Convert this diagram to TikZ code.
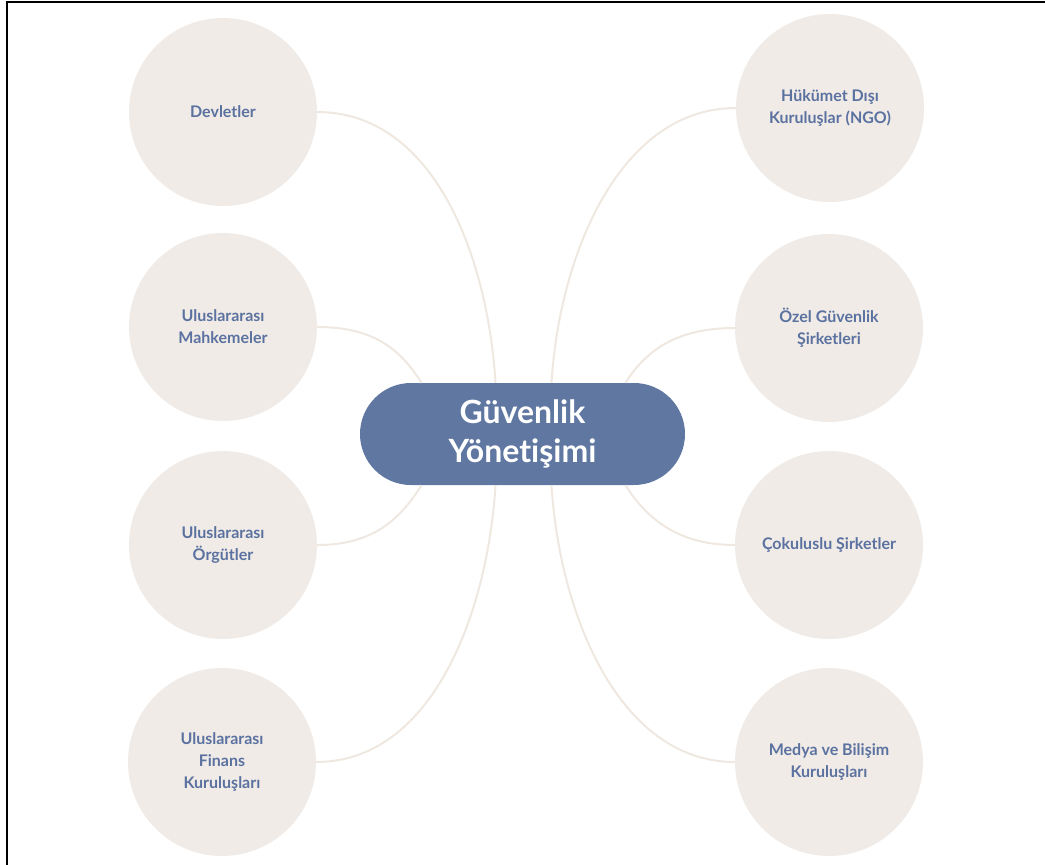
\documentclass[tikz,border=0pt]{standalone}
\usepackage{fontspec}
\setmainfont{Lato}[RawFeature={-liga;-clig;-dlig;-calt}]
\usepackage{tikz}
\usetikzlibrary{calc}

\definecolor{topicfill}{HTML}{F0EBE7}
\definecolor{topictext}{HTML}{5B72A0}
\definecolor{hubfill}{HTML}{5F77A1}
\definecolor{linkline}{HTML}{EFE8E1}

\begin{document}
\begin{tikzpicture}[x=1pt,y=-1pt,
        topic/.style={circle,fill=topicfill,minimum size=188pt,inner sep=0pt,
            text=topictext,align=center,font=\fontsize{16}{22}\selectfont\bfseries},
        hub/.style={rectangle,rounded corners=51pt,fill=hubfill,minimum width=325pt,
            minimum height=102pt,text=white,align=center,
            font=\fontsize{32}{39}\selectfont\bfseries},
        link/.style={draw=linkline,line width=2pt}]
        \useasboundingbox (0,0) rectangle (1045,865);

        % Frame (only top and left edges show)
        \draw[line width=2.5pt] (7,865) -- (7,2) -- (1045,2);

        % Centre
        \node[hub] (hub) at (522.5,434) {Güvenlik\\Yönetişimi};

        % Left column
        \node[topic] (devlet) at (223,112) {Devletler};
        \node[topic] (mahkeme) at (223,327) {Uluslararası\\Mahkemeler};
        \node[topic] (orgut) at (223,545) {Uluslararası\\Örgütler};
        \node[topic] (finans) at (222,762) {Uluslararası\\Finans\\Kuruluşları};

        % Right column
        \node[topic] (ngo) at (830,108) {Hükümet Dışı\\Kuruluşlar (NGO)};
        \node[topic] (ozel) at (829,328) {Özel Güvenlik\\Şirketleri};
        \node[topic] (cokulus) at (829,545) {Çokuluslu Şirketler};
        \node[topic] (medya) at (829,762) {Medya ve Bilişim\\Kuruluşları};

        % Links into the centre
        \draw[link] (devlet.east) .. controls +(115,0) and +(-8,-130) .. ([xshift=-27pt]hub.north);
        \draw[link] (mahkeme.east) .. controls +(55,0) and +(-22,-35) .. ([xshift=-101pt]hub.north);
        \draw[link] (orgut.east) .. controls +(55,0) and +(-22,35) .. ([xshift=-101pt]hub.south);
        \draw[link] (finans.east) .. controls +(115,0) and +(-8,130) .. ([xshift=-27pt]hub.south);

        \draw[link] (ngo.west) .. controls +(-115,0) and +(8,-130) .. ([xshift=29pt]hub.north);
        \draw[link] (ozel.west) .. controls +(-55,0) and +(22,-35) .. ([xshift=103pt]hub.north);
        \draw[link] (cokulus.west) .. controls +(-55,0) and +(22,35) .. ([xshift=103pt]hub.south);
        \draw[link] (medya.west) .. controls +(-115,0) and +(8,130) .. ([xshift=29pt]hub.south);
    \end{tikzpicture}
\end{document}
